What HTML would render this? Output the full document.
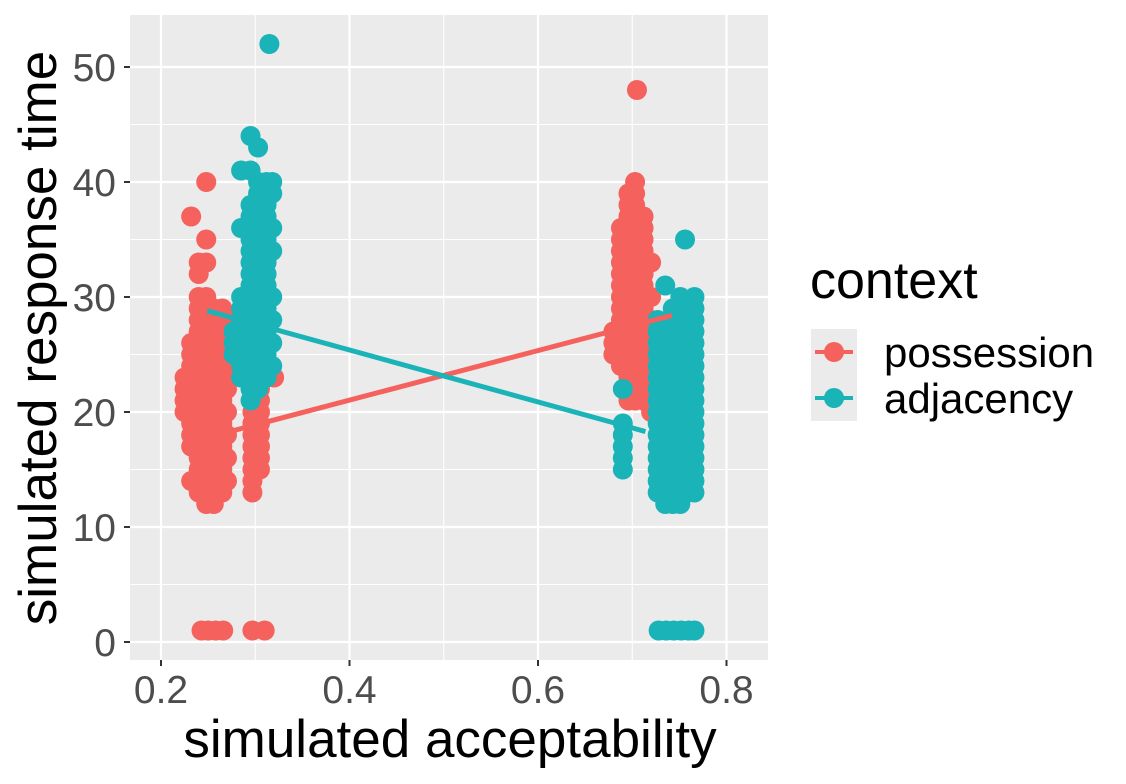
<!DOCTYPE html>
<html><head><meta charset="utf-8"><style>
html,body{margin:0;padding:0;background:#fff;}
svg{display:block;font-family:"Liberation Sans",sans-serif;}
</style></head><body>
<svg id="chart" width="1126" height="784">
<rect x="0" y="0" width="1126" height="784" fill="#fff"/>
<rect x="130" y="15" width="638" height="645" fill="#EBEBEB"/>
<g id="grid"></g>
<g id="pts"></g>
<g id="lines"></g>
<g id="axes"></g>
<text x="450" y="757" font-size="53" text-anchor="middle" fill="#000">simulated acceptability</text>
<text transform="translate(56,338) rotate(-90)" font-size="53" text-anchor="middle" fill="#000">simulated response time</text>
<g>
<text x="810" y="298" font-size="52" fill="#000">context</text>
<rect x="811" y="329" width="46" height="92" fill="#EBEBEB"/>
<g>
<line x1="815" y1="352" x2="853" y2="352" stroke="#F5625D" stroke-width="4"/>
<circle cx="834" cy="352" r="10" fill="#F5625D"/>
<text x="884" y="367" font-size="42" fill="#000">possession</text></g>
<g>
<line x1="815" y1="398" x2="853" y2="398" stroke="#1AB3B8" stroke-width="4"/>
<circle cx="834" cy="398" r="10" fill="#1AB3B8"/>
<text x="884" y="413" font-size="42" fill="#000">adjacency</text></g>
</g>
</svg>
<script>
const xTicks=[0.2,0.4,0.6,0.8];
const yTicks=[0,10,20,30,40,50];
const xMinor=[0.3,0.5,0.7];
const yMinor=[5,15,25,35,45];
const possCols=[
[0.225,[20,21,22,23]],
[0.232,[14,17,18,19,20,21,22,23,24,25,26,37]],
[0.240,[13,14,15,16,17,18,19,20,21,22,23,24,25,26,27,28,29,30,32,33]],
[0.248,[12,13,14,15,16,17,18,19,20,21,22,23,24,25,26,27,28,29,30,33,35,40]],
[0.256,[12,13,14,15,16,17,18,19,20,21,22,23,24,25,26,27,28,29]],
[0.265,[13,14,15,16,17,18,19,20,21,22,23,24,25,26,27,28,29]],
[0.270,[14,16,18,20,22,24,26,28]],
[0.297,[13,14,15,16,17,18,19,20,21,22]],
[0.305,[15,16,17,18,19,20,21,22]],
[0.320,[23]],
[0.243,[1]],[0.250,[1]],[0.258,[1]],[0.266,[1]],[0.297,[1]],[0.310,[1]],
[0.680,[25,26,27]],
[0.688,[24,25,26,27,28,29,30,31,32,33,34,35,36]],
[0.696,[21,22,23,24,25,26,27,28,29,30,31,32,33,34,35,36,37,38,39]],
[0.703,[21,22,23,24,25,26,27,28,29,30,31,32,33,34,35,36,37,38,39,40]],
[0.705,[48]],
[0.712,[21,22,23,24,25,26,27,28,29,30,31,32,33,34,35,36,37]],
[0.720,[20,22,24,26,28,30,33]]
];
const adjCols=[
[0.277,[25,26,27]],
[0.285,[23,24,25,26,27,28,29,30,36,41]],
[0.295,[21,22,23,24,25,26,27,28,29,30,31,32,33,34,35,36,37,38,41,44]],
[0.303,[22,23,24,25,26,27,28,29,30,31,32,33,34,35,36,37,38,39,40,43]],
[0.312,[23,24,25,26,27,28,29,30,31,32,33,34,35,36,37,38,39,40]],
[0.315,[52]],
[0.318,[24,26,28,30,34,36,39,40]],
[0.690,[15,16,17,18,19,22]],
[0.727,[13,14,15,16,17,18,19,20,21,22,23,24,25,26,27,28]],
[0.735,[12,13,14,15,16,17,18,19,20,21,22,23,24,25,26,27,31]],
[0.743,[12,13,14,15,16,17,18,19,20,21,22,23,24,25,26,27,28,29]],
[0.751,[12,13,14,15,16,17,18,19,20,21,22,23,24,25,26,27,28,29,30]],
[0.756,[35]],
[0.759,[13,14,15,16,17,18,19,20,21,22,23,24,25,26,27,28,29]],
[0.766,[13,14,15,16,17,18,19,20,21,22,23,24,25,26,27,28,29,30]],
[0.728,[1]],[0.736,[1]],[0.744,[1]],[0.752,[1]],[0.760,[1]],[0.766,[1]]
];
const possLineX=[0.25,0.742];
const possLineY=[17.8,28.4];
const adjLineX=[0.249,0.714];
const adjLineY=[28.8,18.3];

const NS="http://www.w3.org/2000/svg";
function sx(v){return 161+(v-0.2)/0.2*188.5;}
function sy(v){return 642-v*11.5;}
function mk(tag,attrs,parent){const e=document.createElementNS(NS,tag);for(const k in attrs)e.setAttribute(k,attrs[k]);parent.appendChild(e);return e;}
const grid=document.getElementById('grid');
xMinor.forEach(v=>{const l=mk('line',{x1:sx(v),x2:sx(v),y1:15,y2:660,stroke:'#fff','stroke-width':1.1},grid);

});
yMinor.forEach(v=>{const l=mk('line',{x1:130,x2:768,y1:sy(v),y2:sy(v),stroke:'#fff','stroke-width':1.1},grid);

});
xTicks.forEach(v=>{const l=mk('line',{x1:sx(v),x2:sx(v),y1:15,y2:660,stroke:'#fff','stroke-width':2.2},grid);

});
yTicks.forEach(v=>{const l=mk('line',{x1:130,x2:768,y1:sy(v),y2:sy(v),stroke:'#fff','stroke-width':2.2},grid);

});
const pts=document.getElementById('pts');
function drawCols(cols,color,name){cols.forEach(c=>{c[1].forEach(y=>{const p=mk('circle',{cx:sx(c[0]),cy:sy(y),r:10,fill:color},pts);

});});}
drawCols(possCols,'#F5625D','point-possession');
drawCols(adjCols,'#1AB3B8','point-adjacency');
const lines=document.getElementById('lines');
const l1=mk('line',{x1:sx(possLineX[0]),y1:sy(possLineY[0]),x2:sx(possLineX[1]),y2:sy(possLineY[1]),stroke:'#F5625D','stroke-width':5},lines);


const l2=mk('line',{x1:sx(adjLineX[0]),y1:sy(adjLineY[0]),x2:sx(adjLineX[1]),y2:sy(adjLineY[1]),stroke:'#1AB3B8','stroke-width':5},lines);


const axes=document.getElementById('axes');
xTicks.forEach(v=>{mk('line',{x1:sx(v),x2:sx(v),y1:660,y2:666,stroke:'#333','stroke-width':2},axes);
const t=mk('text',{x:sx(v),y:703,'font-size':39,'text-anchor':'middle',fill:'#4D4D4D'},axes);t.textContent=String(v);

});
yTicks.forEach(v=>{mk('line',{x1:124,x2:130,y1:sy(v),y2:sy(v),stroke:'#333','stroke-width':2},axes);
const t=mk('text',{x:116,y:sy(v)+14,'font-size':39,'text-anchor':'end',fill:'#4D4D4D'},axes);t.textContent=String(v);

});
</script>
</body></html>
